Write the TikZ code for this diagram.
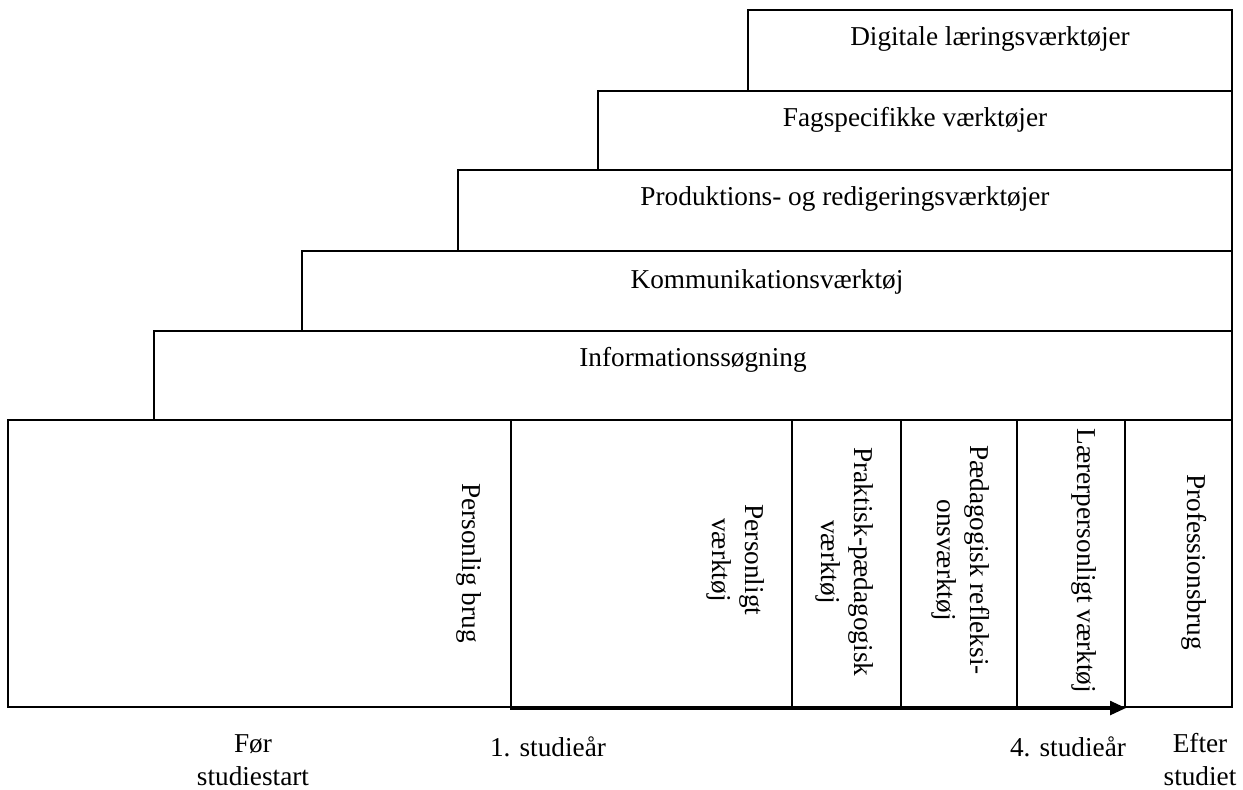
\documentclass[tikz,border=0pt]{standalone}
\usepackage{fontspec}
\setmainfont{Liberation Serif}
\usetikzlibrary{fit,calc,arrows.meta}
\tikzset{
  boxline/.style={draw=black, line width=0.9pt, inner sep=0pt, fill=none},
  lbl/.style={font=\fontsize{12}{14.5}\selectfont, inner sep=0pt, align=center},
  vlbl/.style={lbl, rotate=-90},
  arrowline/.style={line width=1.4pt, -{Triangle[length=7pt,width=6pt]}}
}
\begin{document}
\begin{tikzpicture}[x=0.44pt,y=-0.44pt]
\useasboundingbox (0,0) rectangle (1243,790);
% stair boxes
\node[boxline, fit={(748,10) (1232,91)}] (dig) {};
\node[boxline, fit={(598,91) (1232,170)}] (fag) {};
\node[boxline, fit={(458,170) (1232,251)}] (prod) {};
\node[boxline, fit={(302,251) (1232,331)}] (komm) {};
\node[boxline, fit={(154,331) (1232,420)}] (info) {};
\node[lbl] (tdig) at ($(dig.north)+(0,30)$) {Digitale læringsværktøjer};
\node[lbl] (tfag) at ($(fag.north)+(0,30)$) {Fagspecifikke værktøjer};
\node[lbl] (tprod) at ($(prod.north)+(0,30)$) {Produktions- og redigeringsværktøjer};
\node[lbl] (tkomm) at ($(komm.north)+(0,32)$) {Kommunikationsværktøj};
\node[lbl] (tinfo) at ($(info.north)+(0,30)$) {Informationssøgning};
% bottom cells
\node[boxline, fit={(8,420) (1232,707)}] (base) {};
\node[boxline, fit={(8,420) (511,707)}] (c0) {};
\node[boxline, fit={(511,420) (792,707)}] (c1) {};
\node[boxline, fit={(792,420) (901,707)}] (c2) {};
\node[boxline, fit={(901,420) (1017,707)}] (c3) {};
\node[boxline, fit={(1017,420) (1125,707)}] (c4) {};
\node[boxline, fit={(1125,420) (1232,707)}] (c5) {};
% vertical labels
\node[vlbl] (t0) at (469,563) {Personlig brug};
\node[vlbl] (t1) at (736,560) {Personligt\\værktøj};
\node[vlbl] (t2) at (845,562) {Praktisk-pædagogisk\\værktøj};
\node[vlbl] (t3) at (961,560) {Pædagogisk refleksi-\\onsværktøj};
\node[vlbl] (t4) at (1084,561) {Lærerpersonligt værktøj};
\node[vlbl] (t5) at (1194,562) {Professionsbrug};
% arrow
\draw[arrowline] (c1.south west) -- (c4.south east);
% time labels
\node[lbl] (l0) at (253,760) {Før\\studiestart};
\node[lbl] (l1) at (548,747) {1. studieår};
\node[lbl] (l2) at (1068,747) {4. studieår};
\node[lbl] (l3) at (1200,760) {Efter\\studiet};
\end{tikzpicture}
\end{document}
